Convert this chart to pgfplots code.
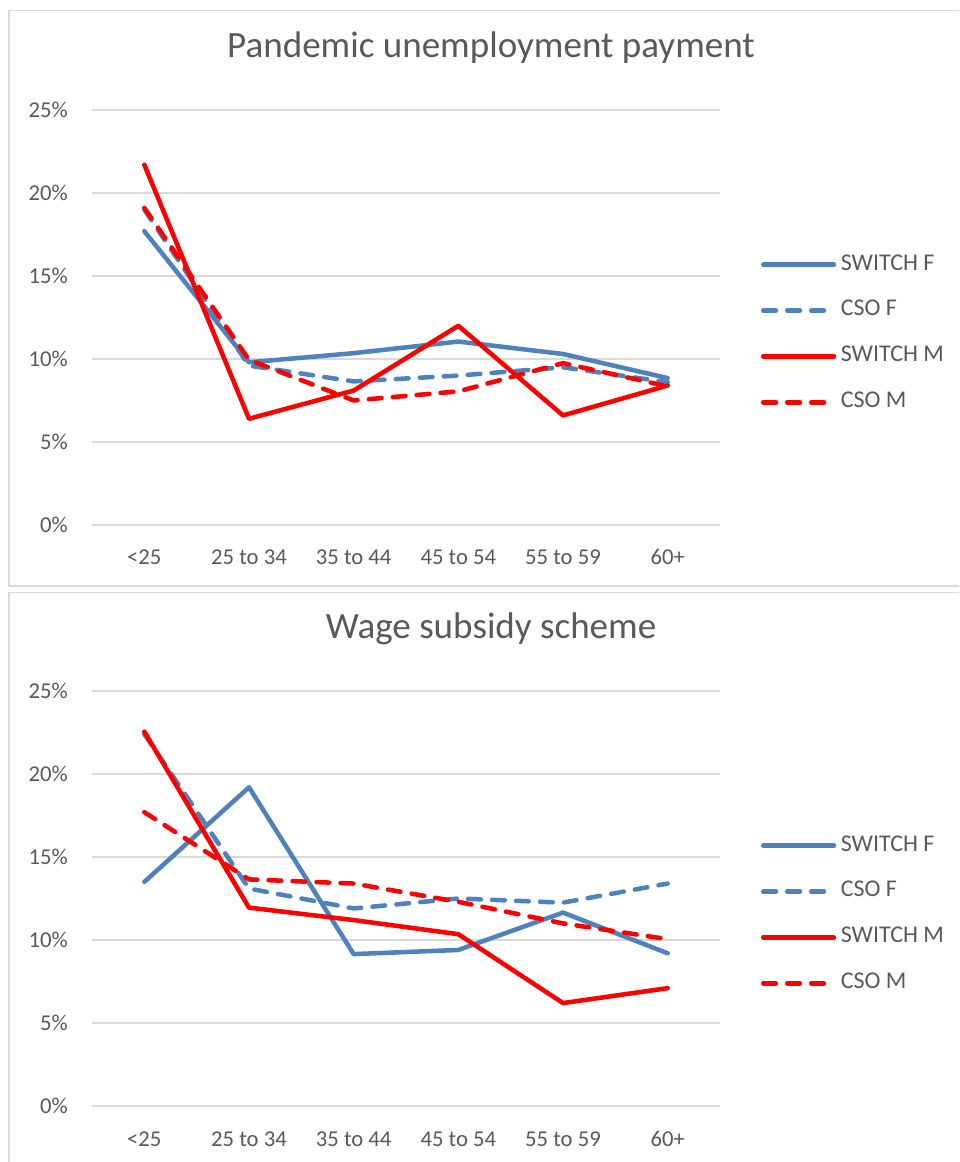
\documentclass[border=0pt]{standalone}
\usepackage{pgfplots}
\pgfplotsset{compat=1.18}
\usepackage{fontspec}
\setmainfont{Carlito}
\definecolor{txtgray}{HTML}{595959}
\definecolor{gridgray}{HTML}{D9D9D9}
\definecolor{xlblue}{HTML}{4F81BD}
\definecolor{xlred}{HTML}{FF0000}
\pgfplotsset{
  panel/.style={
    scale only axis, width=471pt, height=311.25pt,
    xmin=-0.5, xmax=5.5, ymin=0, ymax=25,
    xtick={0,1,2,3,4,5},
    xticklabels={<25,25 to 34,35 to 44,45 to 54,55 to 59,60+},
    ytick={0,5,10,15,20,25},
    yticklabels={0\%,5\%,10\%,15\%,20\%,25\%},
    axis line style={draw=none},
    major tick style={draw=none},
    ymajorgrids, grid style={gridgray, line width=1.1pt},
    tick label style={font=\fontsize{17}{20}\selectfont, text=txtgray},
    yticklabel style={anchor=east, inner sep=0pt, xshift=-18pt},
    xticklabel style={anchor=base, inner sep=0pt, yshift=-30pt},
    title style={font=\fontsize{27.8}{32}\selectfont, text=txtgray, at={(0.6354,1)}, anchor=base, inner sep=0pt, yshift=33pt},
    legend style={draw=none, fill=none, at={(1.0542,0.4614)}, anchor=west,
      font=\fontsize{18}{21}\selectfont, text=txtgray,
      nodes={inner sep=0pt, text height=12pt, text depth=4pt},
      row sep=18.4pt},
    legend cell align=left,
    legend image code/.code={\path (0pt,0pt) (58.5pt,0pt); \draw[#1] (2pt,0pt) -- (55pt,0pt);},
    every axis plot/.append style={line width=3.4pt, line cap=round, line join=round},
  },
  dsh/.style={dash pattern=on 9.5pt off 8.5pt},
}
\begin{document}
\begin{tikzpicture}
\clip (0,0) rectangle (719.25pt,871.5pt);
\path[use as bounding box] (0,0) rectangle (719.25pt,871.5pt);
\draw[gridgray, line width=1pt] (6.75pt,432pt) rectangle (740pt,863.6pt);
\draw[gridgray, line width=1pt] (6.75pt,-10pt) rectangle (740pt,427.1pt);

\begin{axis}[panel, at={(69pt,477.75pt)}, anchor=south west,
  title={Pandemic unemployment payment}]
\addplot[xlblue] coordinates {(0,17.7)(1,9.8)(2,10.35)(3,11.05)(4,10.3)(5,8.85)};
\addlegendentry{SWITCH F}
\addplot[xlblue, dsh] coordinates {(0,19.0)(1,9.6)(2,8.65)(3,9.0)(4,9.5)(5,8.6)};
\addlegendentry{CSO F}
\addplot[xlred] coordinates {(0,21.7)(1,6.4)(2,8.1)(3,12.0)(4,6.6)(5,8.4)};
\addlegendentry{SWITCH M}
\addplot[xlred, dsh] coordinates {(0,19.1)(1,9.95)(2,7.5)(3,8.05)(4,9.75)(5,8.35)};
\addlegendentry{CSO M}
\end{axis}

\begin{axis}[panel, at={(69pt,42pt)}, anchor=south west,
  title={Wage subsidy scheme}]
\addplot[xlblue] coordinates {(0,13.5)(1,19.2)(2,9.15)(3,9.4)(4,11.65)(5,9.2)};
\addlegendentry{SWITCH F}
\addplot[xlblue, dsh] coordinates {(0,22.4)(1,13.1)(2,11.9)(3,12.5)(4,12.25)(5,13.4)};
\addlegendentry{CSO F}
\addplot[xlred] coordinates {(0,22.55)(1,11.95)(2,11.2)(3,10.35)(4,6.2)(5,7.1)};
\addlegendentry{SWITCH M}
\addplot[xlred, dsh] coordinates {(0,17.7)(1,13.65)(2,13.4)(3,12.3)(4,11.0)(5,10.05)};
\addlegendentry{CSO M}
\end{axis}
\end{tikzpicture}
\end{document}
